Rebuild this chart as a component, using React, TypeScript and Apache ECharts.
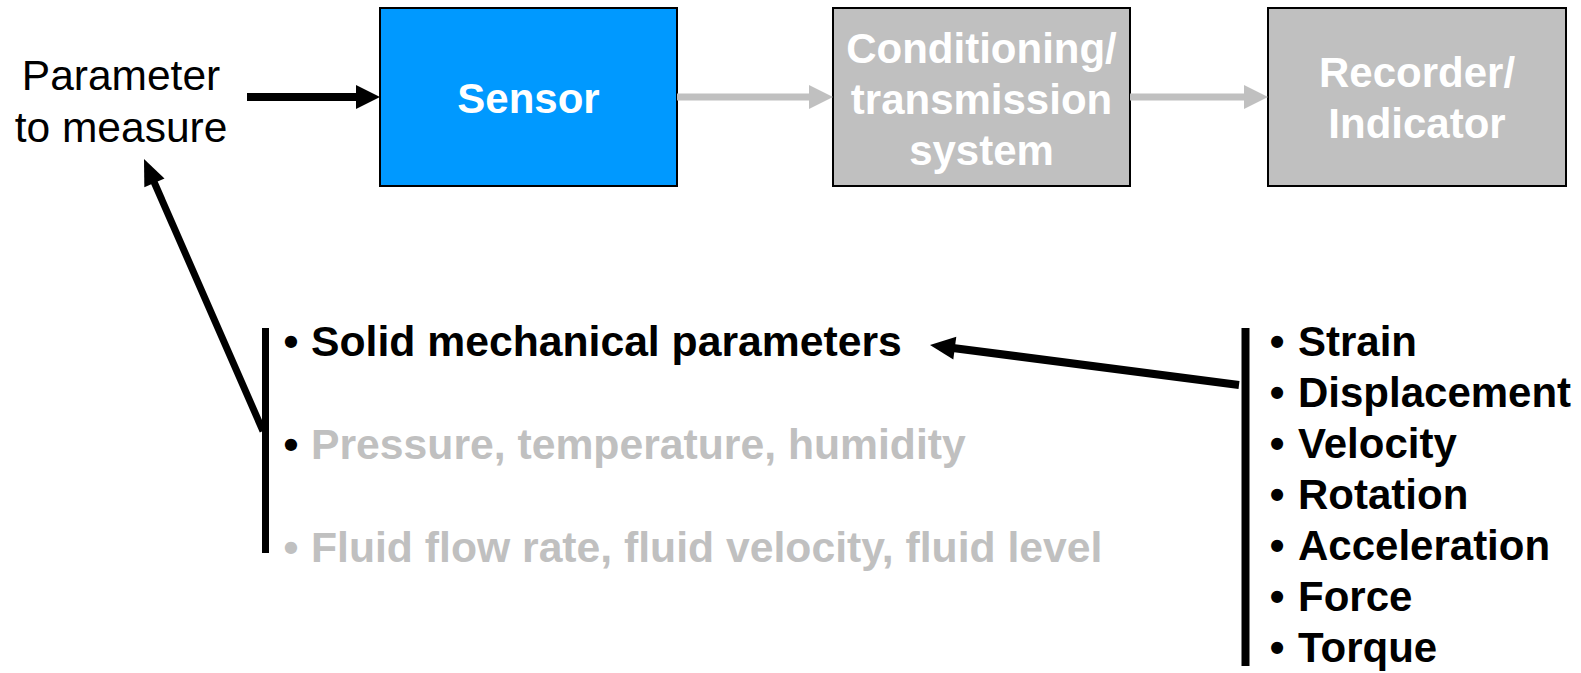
import React, { useEffect, useRef } from "react";
import * as echarts from "echarts";

// ---- diagram content ----
const inputLabel = ["Parameter", "to measure"];
const boxLabels = [["Sensor"], ["Conditioning/", "transmission", "system"], ["Recorder/", "Indicator"]];
const boxColors = ["#0099FF", "#C0C0C0", "#C0C0C0"];
const leftItems = ["Solid mechanical parameters", "Pressure, temperature, humidity", "Fluid flow rate, fluid velocity, fluid level"];
const leftItemColors = ["#000000", "#C0C0C0", "#C0C0C0"];
const leftBulletColors = ["#000000", "#000000", "#C0C0C0"];
const rightItems = ["Strain", "Displacement", "Velocity", "Rotation", "Acceleration", "Force", "Torque"];

const FONT = "'Liberation Sans', Arial, Helvetica, sans-serif";

function arrow(x1: number, y1: number, tx: number, ty: number, color: string, width: number, headLen: number, headHalf: number) {
  const dx = tx - x1;
  const dy = ty - y1;
  const len = Math.sqrt(dx * dx + dy * dy);
  const ux = dx / len;
  const uy = dy / len;
  const bx = tx - ux * headLen;
  const by = ty - uy * headLen;
  const px = -uy * headHalf;
  const py = ux * headHalf;
  return [
    {
      type: "line",
      shape: { x1, y1, x2: bx + ux * 2, y2: by + uy * 2 },
      style: { stroke: color, lineWidth: width, lineCap: "butt" },
      silent: true,
    },
    {
      type: "polygon",
      shape: { points: [[tx, ty], [bx + px, by + py], [bx - px, by - py]] },
      style: { fill: color, stroke: null },
      silent: true,
    },
  ];
}

function txt(text: string, x: number, y: number, opts: any) {
  return {
    type: "text",
    x,
    y,
    style: {
      text,
      fill: opts.fill || "#000",
      fontSize: opts.fontSize || 42,
      fontWeight: opts.fontWeight || "bold",
      fontFamily: FONT,
      align: opts.align || "left",
      verticalAlign: "middle",
    },
    silent: true,
  };
}

export default function App() {
  const ref = useRef<HTMLDivElement>(null);

  useEffect(() => {
    document.body.style.margin = "0";
    if (!ref.current) return;
    const chart = echarts.init(ref.current, null, { renderer: "svg" });

    const elements: any[] = [];

    // input label
    const inLines = [75, 127];
    inputLabel.forEach((l, i) => elements.push(txt(l, 121, inLines[i], { fontWeight: "normal", align: "center", fontSize: 42.5 })));

    // boxes
    const boxes = [
      { x: 380, w: 297 },
      { x: 833, w: 297 },
      { x: 1268, w: 298 },
    ];
    const boxTop = 8;
    const boxH = 178;
    const lineGap = 51;
    boxes.forEach((b, i) => {
      elements.push({
        type: "rect",
        shape: { x: b.x, y: boxTop, width: b.w, height: boxH },
        style: { fill: boxColors[i], stroke: "#000", lineWidth: 2 },
        silent: true,
      });
      const lines = boxLabels[i];
      const cy = 98;
      const start = cy - ((lines.length - 1) * lineGap) / 2;
      lines.forEach((l, j) =>
        elements.push(txt(l, b.x + b.w / 2, start + j * lineGap + (lines.length === 3 ? 1 : 0), { fill: "#FFFFFF", align: "center" }))
      );
    });

    // arrows along top
    elements.push(...arrow(247, 97, 380, 97, "#000000", 8, 24, 12));
    elements.push(...arrow(677, 97, 833, 97, "#C0C0C0", 7, 24, 12));
    elements.push(...arrow(1130, 97, 1268, 97, "#C0C0C0", 7, 24, 12));

    // left bracket bar
    elements.push({
      type: "line",
      shape: { x1: 265.5, y1: 328, x2: 265.5, y2: 553 },
      style: { stroke: "#000", lineWidth: 7 },
      silent: true,
    });
    // diagonal arrow back to parameter
    elements.push(...arrow(263, 431, 144, 159, "#000000", 7, 26, 11));

    // left items
    const leftY = [341, 444, 547];
    leftItems.forEach((t, i) => {
      elements.push(txt("•", 291, leftY[i], { fill: leftBulletColors[i], align: "center", fontSize: 42.7 }));
      elements.push(txt(t, 311, leftY[i], { fill: leftItemColors[i], fontSize: 42.7 }));
    });

    // right bracket bar
    elements.push({
      type: "line",
      shape: { x1: 1245.5, y1: 328, x2: 1245.5, y2: 666 },
      style: { stroke: "#000", lineWidth: 8 },
      silent: true,
    });
    // arrow from right list to solid mechanical parameters
    elements.push(...arrow(1239, 385, 930, 345, "#000000", 8, 25, 11.5));

    // right items
    const rightStart = 341;
    const rightGap = 51;
    rightItems.forEach((t, i) => {
      const y = rightStart + i * rightGap;
      elements.push(txt("•", 1277, y, { align: "center" }));
      elements.push(txt(t, 1298, y, {}));
    });

    chart.setOption({
      animation: false,
      backgroundColor: "#FFFFFF",
      graphic: { elements },
    });

    return () => chart.dispose();
  }, []);

  return <div ref={ref} style={{ width: 1581, height: 673 }} />;
}
